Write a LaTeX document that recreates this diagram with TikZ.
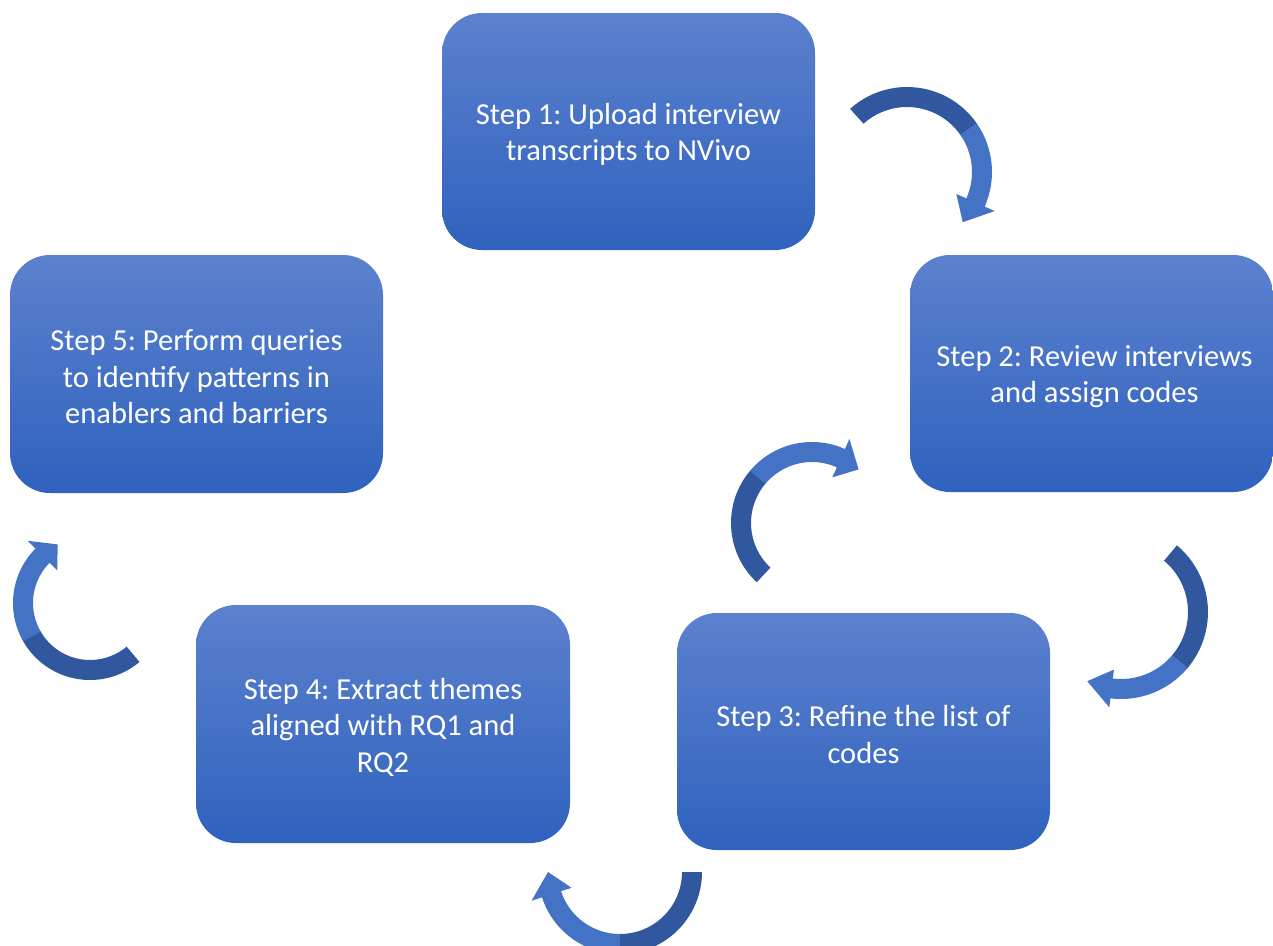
\documentclass[tikz,border=0pt]{standalone}
\usepackage{fontspec}
\setmainfont{Carlito}
\usetikzlibrary{calc}
\frenchspacing
\definecolor{boxtop}{RGB}{92,129,206}
\definecolor{boxbot}{RGB}{47,98,190}
\definecolor{arrdark}{RGB}{49,88,158}
\definecolor{arrlight}{RGB}{68,114,196}
\tikzset{
  stepbox/.style={rounded corners=40pt, top color=boxtop, bottom color=boxbot,
    draw=none, inner sep=0pt, align=center, text=white,
    font=\fontsize{30.5}{36.5}\selectfont},
}
% #1 center, #2 mid radius, #3 start, #4 split, #5 base, #6 tip, #7 half band, #8 half head
\newcommand\cycarrow[8]{%
  \pgfmathsetmacro\ro{#2+#7}%
  \pgfmathsetmacro\ri{#2-#7}%
  \pgfmathsetmacro\ho{#2+#8}%
  \pgfmathsetmacro\hi{#2-#8}%
  \pgfmathsetmacro\sp{#4+0.6*sign(#3-#4)*(-1)}%
  \fill[arrdark] ($(#1)+(#3:\ro)$) arc[start angle=#3, end angle=\sp, radius=\ro pt]
    -- ($(#1)+(\sp:\ri)$) arc[start angle=\sp, end angle=#3, radius=\ri pt] -- cycle;
  \fill[arrlight] ($(#1)+(#4:\ro)$) arc[start angle=#4, end angle=#5, radius=\ro pt]
    -- ($(#1)+(#5:\ho)$) -- ($(#1)+(#6:#2)$) -- ($(#1)+(#5:\hi)$)
    -- ($(#1)+(#5:\ri)$) arc[start angle=#5, end angle=#4, radius=\ri pt] -- cycle;
}
\begin{document}
\begin{tikzpicture}[x=1pt,y=1pt]
\useasboundingbox (0,0) rectangle (1273,-945);
\clip (0,0) rectangle (1273,-945);

\node[stepbox, minimum width=373pt, minimum height=237pt] (s1) at (628.5,-131.5) {};
\node[text=white, align=center, font=\fontsize{30.5}{36.5}\selectfont] (t1) at ([yshift=-3pt]s1.center)
  {Step 1: Upload interview\\transcripts to NVivo};
\node[stepbox, minimum width=363pt, minimum height=237pt] (s2) at (1091.5,-373.5) {};
\node[text=white, align=center, font=\fontsize{30.5}{36.5}\selectfont] (t2) at ([xshift=3pt,yshift=-3pt]s2.center)
  {Step 2: Review interviews\\and assign codes};
\node[stepbox, minimum width=373pt, minimum height=237pt] (s3) at (863.5,-731.5) {};
\node[text=white, align=center, font=\fontsize{30.5}{36.5}\selectfont] (t3) at ([yshift=-3pt]s3.center)
  {Step 3: Refine the list of\\codes};
\node[stepbox, minimum width=374pt, minimum height=238pt] (s4) at (383,-724) {};
\node[text=white, align=center, font=\fontsize{30.5}{36.5}\selectfont] (t4) at ([yshift=-3pt]s4.center)
  {Step 4: Extract themes\\aligned with RQ1 and\\RQ2};
\node[stepbox, minimum width=373pt, minimum height=238pt] (s5) at (196.5,-374) {};
\node[text=white, align=center, font=\fontsize{30.5}{36.5}\selectfont] (t5) at ([yshift=-3pt]s5.center)
  {Step 5: Perform queries\\to identify patterns in\\enablers and barriers};

\coordinate (c1) at (907,-172);
\coordinate (c2) at (1121,-612);
\coordinate (c3) at (812,-523);
\coordinate (c4) at (620,-872);
\coordinate (c5) at (90,-603);

\cycarrow{c1}{75}{132}{35}{-24}{-42}{10}{21}
\cycarrow{c2}{77}{50}{-40}{-97}{-116}{10}{19}
\cycarrow{c3}{71}{227}{140}{66}{49}{10}{21}
\cycarrow{c4}{72}{0}{-90}{-162}{-180}{10}{21}
\cycarrow{c5}{67}{-50}{-150}{-225}{-241}{10}{21}
\end{tikzpicture}
\end{document}
